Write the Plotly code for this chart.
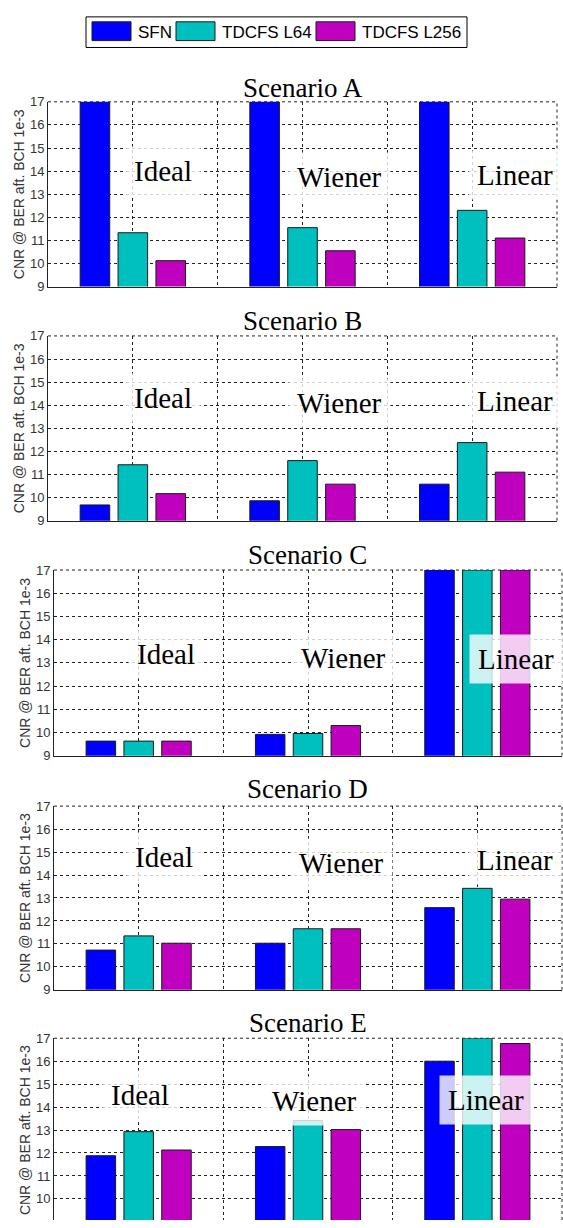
import plotly.graph_objects as go

W, H = 563, 1228

# ---------------- data ----------------
methods = ["Ideal", "Wiener", "Linear"]
method_x = [1, 2, 3]
series_names = ["SFN", "TDCFS L64", "TDCFS L256"]
scenario_names = ["Scenario A", "Scenario B", "Scenario C", "Scenario D", "Scenario E"]
y_ticks = [9, 10, 11, 12, 13, 14, 15, 16, 17]

# CNR @ BER after BCH 1e-3 (values above 17 are clipped in the figure)
A_sfn = [17.0, 17.0, 17.0]
A_l64 = [11.33, 11.55, 12.30]
A_l256 = [10.12, 10.55, 11.10]

B_sfn = [9.68, 9.86, 10.58]
B_l64 = [11.42, 11.60, 12.38]
B_l256 = [10.17, 10.58, 11.10]

C_sfn = [9.63, 9.92, 17.0]
C_l64 = [9.63, 9.96, 17.0]
C_l256 = [9.63, 10.30, 17.0]

D_sfn = [10.73, 11.03, 12.58]
D_l64 = [11.35, 11.66, 13.42]
D_l256 = [11.03, 11.66, 12.95]

E_sfn = [11.88, 12.28, 16.00]
E_l64 = [12.93, 13.42, 17.0]
E_l256 = [12.13, 13.02, 16.77]

scenario_values = [
    [A_sfn, A_l64, A_l256],
    [B_sfn, B_l64, B_l256],
    [C_sfn, C_l64, C_l256],
    [D_sfn, D_l64, D_l256],
    [E_sfn, E_l64, E_l256],
]

# ---------------- styles / layout ----------------
colors = ["#0000FF", "#00BFBF", "#BF00BF"]
# pixel boxes of each panel: (left, right, top, bottom)
panel_px = [
    (48, 557, 96, 283),
    (48, 557, 333, 520),
    (54, 562, 570, 758),
    (54, 562, 809, 995),
    (54, 562, 1044, 1228),
]
y_ranges = [[9, 17], [9, 17], [9, 17], [9, 17], [9.08, 17]]
title_y_px = [82, 318, 555, 792, 1029]
# label positions (data coords) for Ideal / Wiener / Linear per panel
label_pos = [
    [(1.18, 13.99), (2.22, 13.73), (3.25, 13.82)],
    [(1.18, 14.3), (2.22, 14.1), (3.25, 14.2)],
    [(1.16, 13.38), (2.21, 13.2), (3.23, 13.17)],
    [(1.15, 14.78), (2.20, 14.54), (3.22, 14.65)],
    [(1.01, 14.51), (2.04, 14.28), (3.05, 14.33)],
]
GRID_DASH = "3px,3px"
GRID_COLOR = "#222222"


def fx(px):
    return px / W


def fy(py):
    return 1 - py / H


fig = go.Figure()
annotations = []
shapes = []
sans = "Liberation Sans, Arial, sans-serif"
serif = "Liberation Serif, Times New Roman, serif"

for i, (name, vals) in enumerate(zip(scenario_names, scenario_values)):
    xa = "x" if i == 0 else f"x{i+1}"
    ya = "y" if i == 0 else f"y{i+1}"
    for s, (sname, v) in enumerate(zip(series_names, vals)):
        fig.add_trace(go.Bar(
            x=method_x, y=v, name=sname, xaxis=xa, yaxis=ya,
            marker=dict(color=colors[s], line=dict(color="#1a1a1a", width=1)),
            showlegend=False, offsetgroup=str(s),
        ))
    l, r, t, b = panel_px[i]
    xkey = "xaxis" if i == 0 else f"xaxis{i+1}"
    ykey = "yaxis" if i == 0 else f"yaxis{i+1}"
    fig.layout[xkey] = dict(
        domain=[fx(l), fx(r)], range=[0.5, 3.5], anchor=ya,
        tickvals=[1, 1.5, 2, 2.5, 3, 3.5], showticklabels=False,
        showgrid=True, gridcolor=GRID_COLOR, griddash=GRID_DASH, gridwidth=1,
        showline=(i < 4), linecolor="#222222", linewidth=1, ticks="",
        zeroline=False, fixedrange=True,
    )
    fig.layout[ykey] = dict(
        domain=[max(0, fy(b)), fy(t)], range=y_ranges[i], anchor=xa,
        tickvals=y_ticks, ticktext=[str(v) for v in y_ticks],
        tickfont=dict(family=sans, size=13, color="#333333"),
        showgrid=True, gridcolor=GRID_COLOR, griddash=GRID_DASH, gridwidth=1,
        showline=True, linecolor="#222222", linewidth=1, ticks="",
        zeroline=False, fixedrange=True,
    )
    # dashed top and right borders (grid lines at the range ends)
    shapes.append(dict(type="line", xref=f"{xa} domain", yref=f"{ya} domain",
                       x0=0, x1=1, y0=1, y1=1, layer="below",
                       line=dict(color=GRID_COLOR, width=1, dash=GRID_DASH)))
    shapes.append(dict(type="line", xref=f"{xa} domain", yref=f"{ya} domain",
                       x0=1, x1=1, y0=0, y1=1, layer="below",
                       line=dict(color=GRID_COLOR, width=1, dash=GRID_DASH)))
    # panel title
    annotations.append(dict(
        text=name, xref="paper", yref="paper", x=fx((l + r) / 2), y=fy(title_y_px[i]),
        xanchor="center", yanchor="middle", showarrow=False,
        font=dict(family=serif, size=27, color="black"),
    ))
    # y-axis title
    annotations.append(dict(
        text="CNR @ BER aft. BCH 1e-3", xref="paper", yref="paper",
        x=fx(l - 29), y=fy((t + b) / 2 if i < 4 else 1137),
        xanchor="center", yanchor="middle", textangle=-90, showarrow=False,
        font=dict(family=sans, size=14, color="#333333"),
    ))
    # method labels
    for m, (mx, my) in zip(methods, label_pos[i]):
        annotations.append(dict(
            text=m, xref=xa, yref=ya, x=mx, y=my, xanchor="center", yanchor="middle",
            showarrow=False, font=dict(family=serif, size=29, color="black"),
            bgcolor="rgba(255,255,255,0.8)", borderpad=8,
        ))

# ---------------- manual legend ----------------
shapes.append(dict(type="rect", xref="paper", yref="paper",
                   x0=fx(86), x1=fx(467), y0=fy(41), y1=fy(10),
                   line=dict(color="black", width=1), fillcolor="white"))
leg_swatch_left = [92, 176, 316]
for s, sname in enumerate(series_names):
    x0 = leg_swatch_left[s]
    shapes.append(dict(type="rect", xref="paper", yref="paper",
                       x0=fx(x0), x1=fx(x0 + 39), y0=fy(34), y1=fy(15),
                       line=dict(color="#1a1a1a", width=1), fillcolor=colors[s]))
    annotations.append(dict(
        text=sname, xref="paper", yref="paper", x=fx(x0 + 44), y=fy(25.5),
        xanchor="left", yanchor="middle", showarrow=False,
        font=dict(family=sans, size=17, color="black"),
    ))

fig.update_layout(
    width=W, height=H, margin=dict(l=0, r=0, t=0, b=0),
    paper_bgcolor="white", plot_bgcolor="white",
    barmode="group", bargap=0.33, bargroupgap=0.22,
    annotations=annotations, shapes=shapes, showlegend=False,
)

fig.write_html("out.html")
